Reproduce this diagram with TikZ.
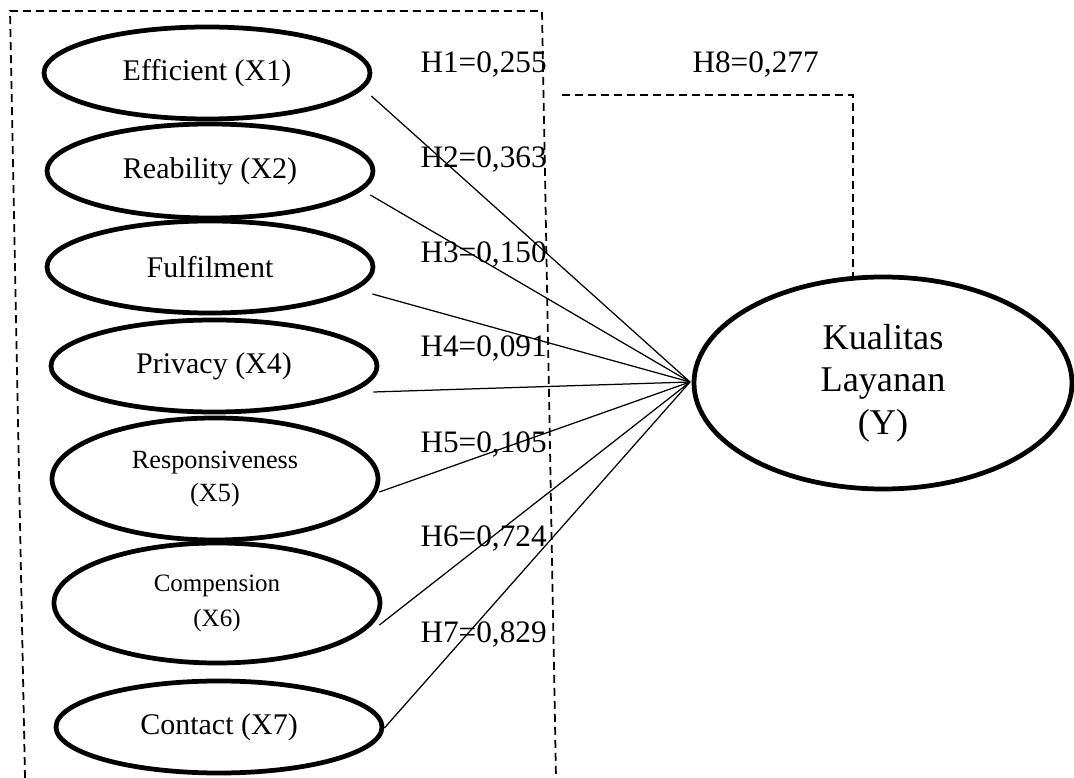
\documentclass[tikz,border=0pt]{standalone}
\usepackage{fontspec}
\setmainfont{Liberation Serif}
\usetikzlibrary{shapes.geometric}
\usetikzlibrary{calc}
\tikzstyle{latent}=[draw, ellipse, line width=1.9pt, inner sep=0pt, align=center, minimum width=130.4pt, minimum height=36.8pt, font=\fontsize{12}{14}\selectfont]
\tikzstyle{coef}=[anchor=west, inner sep=0pt, font=\fontsize{12.5}{15}\selectfont]
\tikzstyle{path line}=[line width=0.5pt]
\tikzstyle{frame}=[line width=0.7pt, dash pattern=on 3.2pt off 2pt]

\begin{document}
\begin{tikzpicture}[x=0.4pt, y=-0.4pt]
      \useasboundingbox (0,0) rectangle (1074,778);
      \draw[frame] (25,778) -- (10,11) -- (542,11) -- (556,778);
      \node[latent] (x1) at (207,73) {Efficient (X1)};
      \node[latent, minimum height=37.6pt] (x2) at (210,171) {Reability (X2)};
      \node[latent] (x3) at (210,267) {Fulfilment};
      \node[latent] (x4) at (214,366) {Privacy (X4)};
      \node[latent, minimum height=48.8pt, font=\fontsize{10.5}{13.2}\selectfont] (x5) at (215,479) {Responsiveness\\(X5)};
      \node[latent, minimum height=48pt, font=\fontsize{10}{14}\selectfont] (x6) at (217,603) {Compension\\(X6)};
      \node[latent] (x7) at (219,727) {Contact (X7)};
      \node[latent, minimum width=151.2pt, minimum height=84.8pt, font=\fontsize{14.5}{17}\selectfont] (y) at (883,383) {Kualitas\\Layanan\\(Y)};
      \coordinate (conv) at (690,382);
      \foreach \n/\dx/\dy in {1/-1/23, 2/-5/24, 3/-3/27, 4/-6/26, 5/-1/13, 6/-3/22, 7/0/1}
        \draw[path line] ($(x\n.east)+(\dx,\dy)$) -- (conv);
      \foreach \n/\v/\yy in {1/{0,255}/65, 2/{0,363}/160, 3/{0,150}/255, 4/{0,091}/349, 5/{0,105}/445, 6/{0,724}/539, 7/{0,829}/635}
        \node[coef] (h\n) at (420,\yy) {H\n=\v};
      \node[coef] (h8) at (692,65) {H8=0,277};
      \coordinate (h8start) at (562,95);
      \coordinate (h8end) at (853,285);
      \draw[frame] (h8start) -| (h8end);
    \end{tikzpicture}
\end{document}
